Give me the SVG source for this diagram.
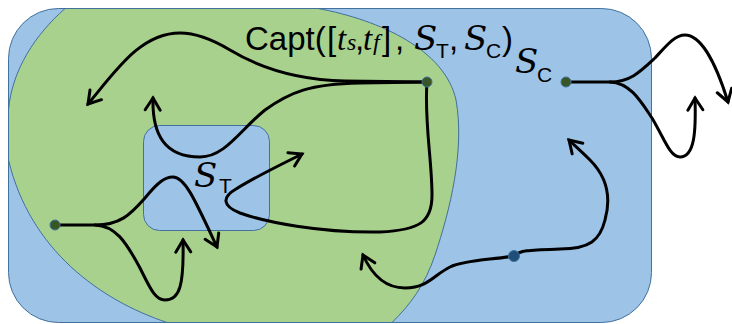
<svg xmlns="http://www.w3.org/2000/svg" width="732" height="324" viewBox="0 0 732 324">
<defs>
<marker id="arr" markerUnits="userSpaceOnUse" viewBox="-16 -10 20 20" markerWidth="20" markerHeight="20" refX="0" refY="0" orient="auto" overflow="visible">
<path d="M -12 -7.5 L 0 0 L -12 7.5" fill="none" stroke="#000" stroke-width="3" stroke-linecap="round" stroke-linejoin="miter"/>
</marker>
<style>
.c{fill:none;stroke:#000;stroke-width:3;stroke-linecap:round;stroke-linejoin:round}
.a{marker-end:url(#arr)}
.reg{fill:#9DC3E6;stroke:#41719C;stroke-width:1}
.dotg{fill:#375623;stroke:#41719C;stroke-width:1}
.dotb{fill:#1F4E79;stroke:#41719C;stroke-width:1}
.sans{font-family:"Liberation Sans",Arial,sans-serif;fill:#000}
.it{font-family:"Liberation Serif","Times New Roman",serif;font-style:italic;fill:#000}
.S{font-family:"DejaVu Serif","Liberation Serif",serif;font-style:italic;font-size:34px;fill:#000}
</style>
</defs>
<g id="regionC">
<rect x="8.5" y="8.5" width="643" height="314" rx="50" fill="#9DC3E6"/>
</g>
<g id="capture">
<path d="M 65 8.5 L 318 8.5 C 380 20, 445 50, 456 100 C 465 150, 450 210, 435 255 C 425 285, 410 305, 392 322.5 L 167 322.5 C 100 300, 30 250, 8.5 160 L 8.5 110 C 12 70, 35 35, 65 8.5 Z" fill="#A9D18E" stroke="#41719C" stroke-width="1"/>
</g>
<rect x="8.5" y="8.5" width="643" height="314" rx="50" fill="none" stroke="#41719C" stroke-width="1"/>
<g id="regionT">
<rect class="reg" x="143.5" y="125.5" width="126" height="105" rx="16"/>
</g>
<g id="connectors">
<path class="c a" d="M 427 82 L 345 81 C 300 80, 260 68, 230 50 C 210 38, 195 33, 180 33 C 140 33, 115 72, 88 104"/>
<path class="c a" d="M 427 82 L 360 83 C 310 84, 290 92, 265 110 C 240 130, 225 157, 200 157 C 165 157, 152 135, 153 98"/>
<path class="c a" d="M 427 82 C 424 120, 432 160, 432 195 C 432 222, 420 230, 380 232 C 320 233, 265 222, 240 213 C 222 206, 222 197, 236 189 C 255 177, 280 165, 302 154"/>
<path class="c a" d="M 55 225 L 95 225 C 120 225, 130 215, 145 198 C 158 182, 165 177, 173 177 C 185 177, 195 200, 217 247"/>
<path class="c a" d="M 95 225 C 115 226, 125 240, 140 268 C 150 288, 155 300, 165 300 C 180 300, 184 285, 183 240"/>
<path class="c a" d="M 566 82 L 610 82 C 630 82, 640 72, 655 58 C 667 45, 675 35, 685 35 C 700 35, 715 60, 728 102"/>
<path class="c a" d="M 610 82 C 630 83, 640 100, 652 118 C 665 140, 670 157, 680 157 C 695 157, 696 130, 695 98"/>
<path class="c a" d="M 514 256 C 520 250, 530 250, 560 249 C 590 249, 600 240, 605 220 C 612 195, 605 175, 590 160 C 580 150, 575 146, 569 140"/>
<path class="c a" d="M 514 256 C 490 260, 465 260, 450 267 C 435 274, 428 288, 405 288 C 385 288, 372 275, 363 255"/>
</g>
<g id="pointA"><circle class="dotg" cx="427" cy="82" r="5"/></g>
<g id="pointB"><circle class="dotg" cx="566" cy="82" r="5"/></g>
<g id="pointC"><circle class="dotg" cx="55" cy="225" r="5"/></g>
<g id="pointD"><circle class="dotb" cx="514" cy="256" r="5.5"/></g>
<g id="labels">
<text y="50"><tspan class="sans" x="245" font-size="33">Capt(</tspan><tspan class="sans" x="327" font-size="33">[</tspan><tspan class="it" x="337" font-size="33">t</tspan><tspan class="it" x="347" font-size="24">s</tspan><tspan class="sans" x="355" font-size="33">,</tspan><tspan class="it" x="363" font-size="33">t</tspan><tspan class="it" x="373" font-size="24">f</tspan><tspan class="sans" x="382" font-size="33">]</tspan><tspan class="sans" x="395" font-size="33">,</tspan><tspan class="S" x="414">S</tspan><tspan class="sans" x="436" y="58" font-size="21">T</tspan><tspan class="sans" x="449" y="50" font-size="33">,</tspan><tspan class="S" x="464">S</tspan><tspan class="sans" x="486" y="58" font-size="21">C</tspan><tspan class="sans" x="502" y="50" font-size="33">)</tspan></text>
<text y="73"><tspan class="S" x="515">S</tspan><tspan class="sans" x="537" y="82" font-size="21">C</tspan></text>
<text y="187"><tspan class="S" x="194">S</tspan><tspan class="sans" x="219" y="193" font-size="21">T</tspan></text>
</g>
</svg>
